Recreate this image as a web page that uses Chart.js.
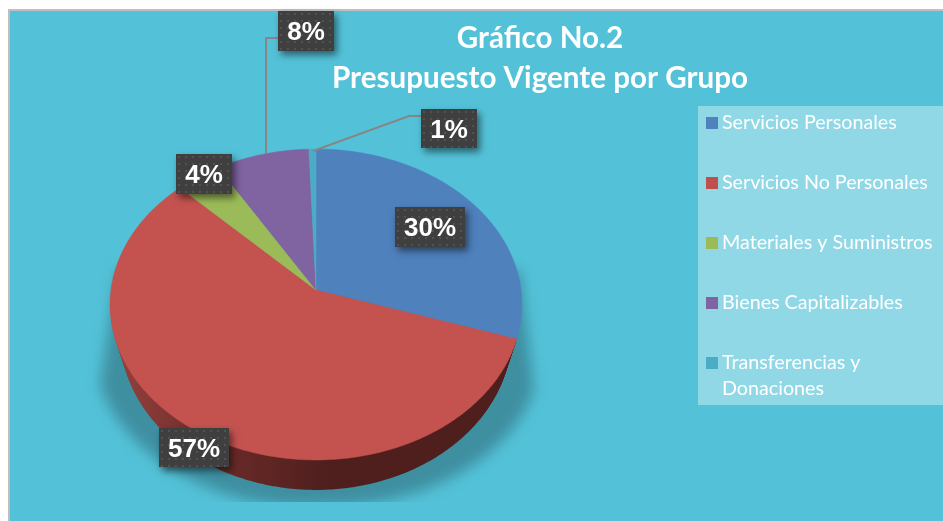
<!DOCTYPE html>
<html>
<head>
<meta charset="utf-8">
<style>html,body{margin:0;padding:0;background:#fff}canvas{display:block}</style>
<script src="https://cdn.jsdelivr.net/npm/chart.js@4"></script>
</head>
<body>
<canvas id="c" width="943" height="521"></canvas>
<script>
const titleLines = ["Gráfico No.2", "Presupuesto Vigente por Grupo"];
const categories = ["Servicios Personales", "Servicios No Personales", "Materiales y Suministros", "Bienes Capitalizables", "Transferencias y Donaciones"];
const legendLines = [["Servicios Personales"], ["Servicios No Personales"], ["Materiales y Suministros"], ["Bienes Capitalizables"], ["Transferencias y", "Donaciones"]];
const values = [30, 57.5, 3.9, 8, 0.6];
const percentLabels = ["30%", "57%", "4%", "8%", "1%"];
const colors = ["#4F81BD", "#C4534F", "#9BBB59", "#8064A2", "#4BACC6"];
const labelBoxes = [[395,207,70,40],[159,428,70,39],[176,154,56,40],[278,11,56,40],[421,109,56,39]];
const leaders = [[[266,154],[266,38],[278,38]], [[313,151],[409,116],[421,116]]];
const legendRows = [122,182,242,302,362];

const K = -0.0932, YS = 154.1/205, TEAL = "#53C2D8";
function project(el, a, dy, sx) {
  const u = Math.cos(a), v = Math.sin(a), w = 1 + K*v;
  return [el.x + sx*el.outerRadius*u/w, el.y + dy + el.outerRadius*YS*v/w];
}
function slicePath(ctx, el, dy, sx) {
  ctx.beginPath();
  ctx.moveTo(el.x, el.y + dy);
  const n = Math.max(2, Math.ceil((el.endAngle-el.startAngle)*80));
  for (let i = 0; i <= n; i++) {
    const p = project(el, el.startAngle + (el.endAngle-el.startAngle)*i/n, dy, sx);
    ctx.lineTo(p[0], p[1]);
  }
  ctx.closePath();
}
function dotPattern(ctx) {
  const t = document.createElement("canvas");
  t.width = 7; t.height = 7;
  const c = t.getContext("2d");
  c.fillStyle = "#3F3F3F"; c.fillRect(0,0,7,7);
  c.fillStyle = "#525252"; c.fillRect(2,2,2,2);
  return ctx.createPattern(t, "repeat");
}
const pie3d = {
  id: "pie3d",
  beforeDraw(chart) {
    const ctx = chart.ctx;
    ctx.save();
    ctx.fillStyle = "#fff"; ctx.fillRect(0,0,943,521);
    ctx.fillStyle = "#BFBFBF"; ctx.fillRect(8,9,935,512);
    ctx.fillStyle = TEAL; ctx.fillRect(10,11,933,510);
    ctx.restore();
  },
  beforeDatasetDraw(chart) {
    const ctx = chart.ctx, arcs = chart.getDatasetMeta(0).data;
    // soft ground shadow
    ctx.save();
    ctx.beginPath(); ctx.rect(60,240,520,262); ctx.clip();
    ctx.filter = "blur(7px)";
    ctx.fillStyle = "rgba(45,95,110,0.52)";
    ctx.beginPath();
    ctx.moveTo(118,270);
    ctx.lineTo(100,385);
    ctx.bezierCurveTo(130,470,240,512,316,506);
    ctx.bezierCurveTo(420,510,510,460,534,390);
    ctx.lineTo(520,270);
    ctx.closePath(); ctx.fill();
    ctx.restore();
    // side wall of the slice facing the viewer
    const grad = ctx.createLinearGradient(112,0,330,0);
    grad.addColorStop(0, "#95423F");
    grad.addColorStop(0.45, "#6E2C2A");
    grad.addColorStop(1, "#4E1F1D");
    ctx.save();
    ctx.fillStyle = grad;
    for (let d = 30; d > 0; d -= 1) { slicePath(ctx, arcs[1], d, 1 - 0.05*d/30); ctx.fill(); }
    ctx.restore();
    // top faces, from the library's arc angles
    ctx.save();
    arcs.forEach((el, i) => {
      slicePath(ctx, el, 0, 1);
      ctx.fillStyle = colors[i];
      ctx.fill();
      ctx.strokeStyle = colors[i]; ctx.lineWidth = 0.5; ctx.stroke();
    });
    ctx.restore();
    return false;
  },
  afterDatasetsDraw(chart) {
    const ctx = chart.ctx;
    ctx.save();
    // leader lines
    ctx.strokeStyle = "#868686"; ctx.lineWidth = 2;
    leaders.forEach(l => {
      ctx.beginPath();
      l.forEach((p,i) => i ? ctx.lineTo(p[0],p[1]) : ctx.moveTo(p[0],p[1]));
      ctx.stroke();
    });
    // value labels
    const pat = dotPattern(ctx);
    percentLabels.forEach((t,i) => {
      const b = labelBoxes[i];
      ctx.save();
      ctx.shadowColor = "rgba(0,0,0,0.5)"; ctx.shadowBlur = 7; ctx.shadowOffsetX = 3; ctx.shadowOffsetY = 4;
      ctx.fillStyle = "#3F3F3F"; ctx.fillRect(b[0],b[1],b[2],b[3]);
      ctx.restore();
      ctx.save();
      ctx.translate(b[0],b[1]);
      ctx.fillStyle = pat; ctx.fillRect(0,0,b[2],b[3]);
      ctx.restore();
      ctx.fillStyle = "#fff";
      ctx.font = "bold 26px 'Liberation Sans'";
      ctx.textAlign = "center"; ctx.textBaseline = "middle";
      ctx.fillText(t, b[0]+b[2]/2, b[1]+b[3]/2+2);
    });
    // title
    ctx.fillStyle = "#fff";
    ctx.font = "bold 29.6px Lato";
    ctx.textAlign = "center"; ctx.textBaseline = "middle";
    ctx.fillText(titleLines[0], 540, 38);
    ctx.fillText(titleLines[1], 540, 78);
    // legend
    ctx.fillStyle = "rgba(255,255,255,0.36)";
    ctx.fillRect(698,106,245,299);
    ctx.font = "19.7px Lato"; ctx.textAlign = "left";
    legendLines.forEach((lines,i) => {
      ctx.fillStyle = colors[i] === colors[1] ? "#C0504D" : colors[i];
      ctx.fillRect(706, legendRows[i]-5, 12, 12);
      ctx.fillStyle = "#fff";
      lines.forEach((s,j) => ctx.fillText(s, 722, legendRows[i]+1+j*26));
    });
    ctx.restore();
  }
};
new Chart(document.getElementById("c"), {
  type: "pie",
  data: { labels: categories, datasets: [{ data: values, backgroundColor: colors, borderWidth: 0 }] },
  options: {
    responsive: false, animation: false,
    layout: { padding: { left: 111, right: 422, top: 85, bottom: 26 } },
    plugins: { legend: { display: false }, title: { display: false }, tooltip: { enabled: false } }
  },
  plugins: [pie3d]
});
</script>
</body>
</html>
